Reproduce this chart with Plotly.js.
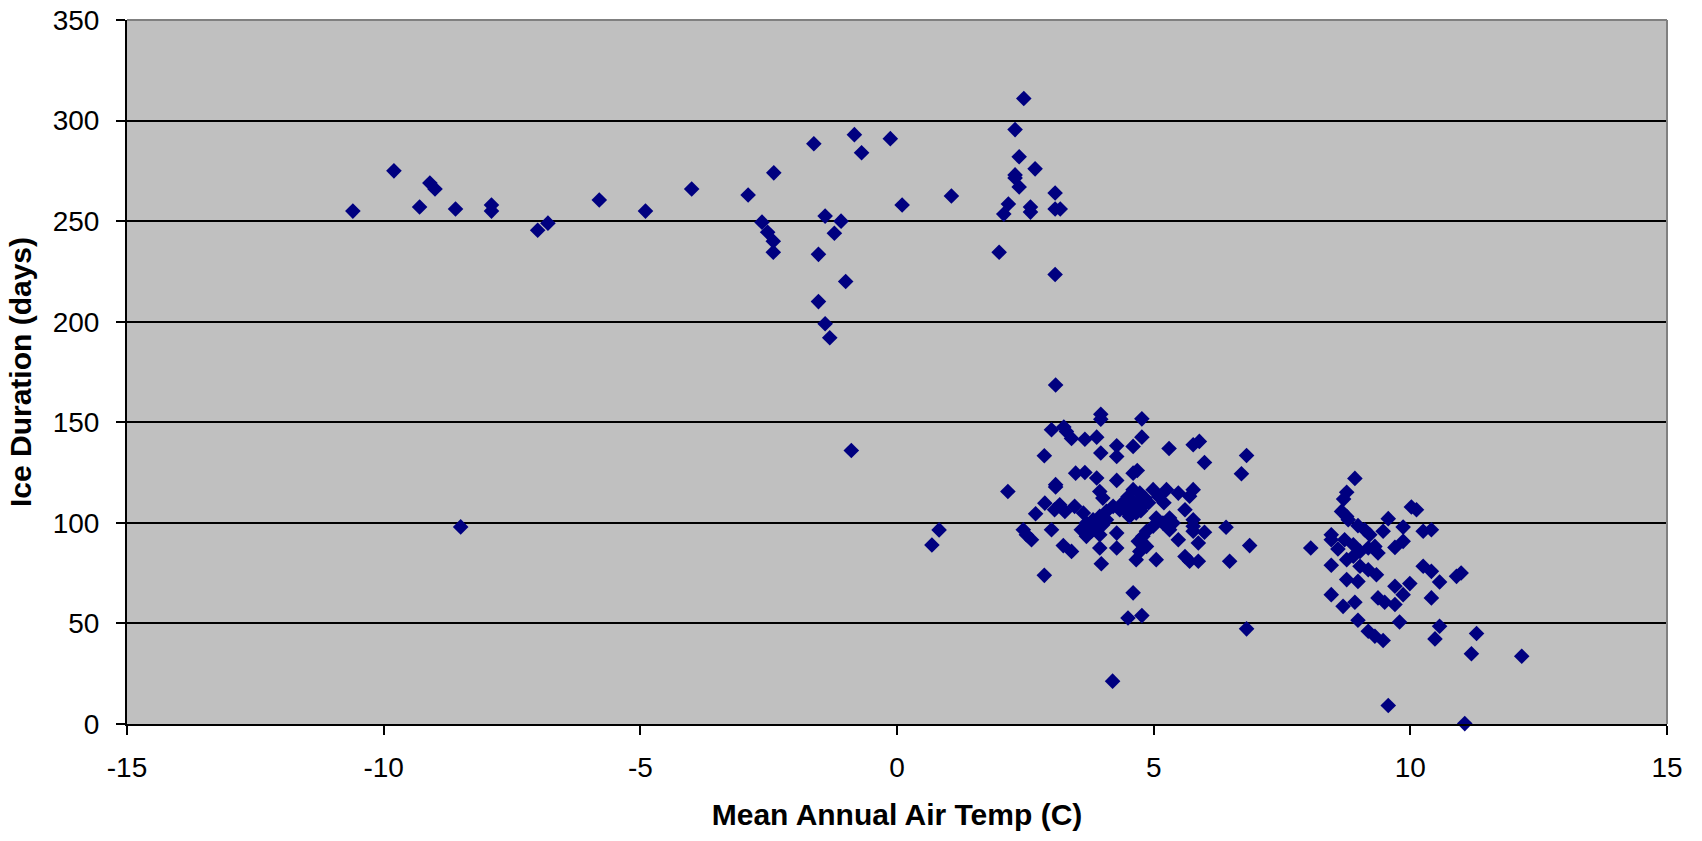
<!DOCTYPE html>
<html>
<head>
<meta charset="utf-8">
<script src="https://cdn.plot.ly/plotly-3.0.1.min.js"></script>
<style>html,body{margin:0;padding:0;background:#fff;}#chart{width:1702px;height:841px;}</style>
</head>
<body>
<div id="chart"></div>
<script>
// Mean annual air temperature (C) and ice duration (days), grouped by region of the plot
const coldTemp = [-10.6,-9.8,-9.3,-9.1,-9.0,-8.6,-7.9,-7.9,-7.0,-6.8,-8.5,-5.8,-4.9,-4.0];
const coldIce  = [255,275,257,269,266,256,258,255,245.5,249,98,260.5,255,266];

const midTemp = [-2.9,-2.63,-2.52,-2.41,-2.41,-2.4,-1.62,-0.83,-0.69,-0.13,-1.4,-1.09,-1.22,-1.53,-1.0,-1.53,-1.4,-1.31,0.1,1.06,-0.89,0.68,0.82];
const midIce  = [263,249.5,244.5,240,234.5,274,288.5,293,284,291,252.5,250,244,233.5,220,210,199,192,258,262.5,136,89,96.5];

const highTemp = [2.47,2.3,2.38,2.69,2.3,2.3,2.38,2.17,2.08,2.6,2.6,3.08,3.08,3.18,1.99,3.08,3.09];
const highIce  = [311,295.5,282,276,273,271.5,267,258.5,253.5,257,254.5,264,256,256,234.5,223.5,168.5];

const warmTemp = [3.97,3.97,4.77,3.01,3.25,3.30,3.40,3.66,3.89,4.28,4.60,4.77,3.97,4.28,2.87,5.30,5.77,5.89,5.99,6.81,6.71,3.48,3.66,3.89,4.28,4.60,4.68,3.09,3.09,2.16,3.95,4.01,4.60,4.73,4.99,5.25,5.48,5.77,5.70,4.83,4.47,4.21,4.08,4.34,4.60,4.83,4.66,4.53,2.88,3.07,3.17,3.27,3.46,3.63,2.70,3.82,3.95,4.08,3.69,3.89,4.01,3.59,3.69,3.79,3.95,3.01,2.46,2.52,2.62,4.28,4.28,3.95,3.98,3.24,3.40,2.87,5.05,5.18,4.99,4.86,4.79,4.70,4.86,4.73,4.66,5.05,5.31,5.38,5.31,5.61,5.77,5.77,5.77,5.99,5.87,5.48,5.61,5.70,5.87,6.41,6.48,6.87,6.81,4.60,4.50,4.77,4.20,4.40,4.50,4.70,4.90,5.10,5.20,4.45,4.75];
const warmIce  = [154,151.5,151.7,146.3,147.6,145.4,142,141.6,142.6,138.3,138,142.6,134.7,133,133.4,137,138.8,140.5,130,133.5,124.4,124.7,125,122.3,121.1,124.7,126,119,117.8,115.6,115.6,112.3,116.5,114.8,116.5,116.5,114.8,116.5,113.2,112.3,111.5,108.2,105.7,106.5,108.2,109.8,104.9,103.2,109.8,106.5,109,105.7,108.2,104.9,104.5,101.5,103.2,101.5,99.9,99.1,99.1,96.6,93.3,95.8,94.1,96.6,96.6,94.1,91.6,94.9,87.5,87.5,79.7,88.7,85.8,73.9,102.4,99.9,98.3,95.8,93.3,90.8,88.3,85.8,81.7,81.7,102.4,99.9,96.6,106.5,101.5,98.3,95.8,95.3,90,91.6,83.3,80.9,80.9,97.8,80.9,88.7,47.3,65.2,52.7,53.9,21.3,110,113,111,110,113,110,106,106];

const hotTemp = [8.92,8.76,8.70,8.66,8.76,8.79,10.02,10.12,9.57,9.86,9.47,8.98,9.11,9.21,8.46,8.46,8.72,10.25,10.41,8.06,8.59,8.89,9.02,9.18,9.31,9.37,9.70,9.86,8.76,8.89,9.02,9.18,9.34,8.46,10.25,10.41,10.57,10.90,10.99,8.76,8.98,9.70,9.99,8.46,8.69,8.92,9.37,9.50,9.70,9.86,10.41,8.98,9.79,9.18,9.31,9.47,10.57,10.48,11.29,11.19,12.17,9.57,11.06];
const hotIce  = [122.1,115.2,111.8,105.7,103.2,101.6,107.9,106.5,102.1,97.9,95.8,98.6,96.6,94.1,94.1,91.6,91.6,95.8,96.6,87.5,87,89.1,85.8,87.5,88.3,85,87.8,90.8,81.7,83.4,78.4,76.7,74.2,78.9,78.4,75.9,70.6,73.4,75.1,71.8,70.9,68.5,69.8,64.3,58.5,60.5,62.7,60.5,59.4,64.3,62.7,51.6,50.7,46.1,43.6,41.5,48.6,42.3,45,34.9,33.7,9.2,0.2];

const xTickVals = [-15, -10, -5, 0, 5, 10, 15];
const xTickText = ['-15', '-10', '-5', '0', '5', '10', '15'];
const xTitle = 'Mean Annual Air Temp (C)';
const yTitle = 'Ice Duration (days)';

const temps = [].concat(coldTemp, midTemp, highTemp, warmTemp, hotTemp);
const ice = [].concat(coldIce, midIce, highIce, warmIce, hotIce);

const font = 'Liberation Sans, Arial, sans-serif';

Plotly.newPlot('chart', [{
  type: 'scatter', mode: 'markers', x: temps, y: ice,
  marker: {symbol: 'diamond', size: 12, color: '#000080', line: {width: 0}},
  hoverinfo: 'x+y', cliponaxis: false
}], {
  width: 1702, height: 841,
  margin: {l: 127, r: 35, t: 20, b: 117},
  paper_bgcolor: '#ffffff', plot_bgcolor: '#c0c0c0',
  showlegend: false,
  font: {family: font, color: '#000', size: 28},
  xaxis: {
    range: [-15, 15], tickmode: 'array', tickvals: xTickVals, ticktext: xTickText,
    showgrid: false, zeroline: false,
    showline: true, linecolor: '#000', linewidth: 2,
    ticks: 'outside', ticklen: 9, tickwidth: 2, tickcolor: '#000',
    ticklabelstandoff: 8,
    tickfont: {family: font, size: 28},
    title: {text: xTitle, font: {family: font, size: 30, weight: 'bold'}, standoff: 22}
  },
  yaxis: {
    range: [0, 350], dtick: 50, showgrid: true, gridcolor: '#000', gridwidth: 2, zeroline: false,
    showline: true, linecolor: '#000', linewidth: 2,
    ticks: 'outside', ticklen: 9, tickwidth: 2, tickcolor: '#000',
    ticklabelstandoff: 11,
    tickfont: {family: font, size: 28},
    title: {text: yTitle, font: {family: font, size: 30, weight: 'bold'}, standoff: 12}
  },
  shapes: [
    {type: 'line', xref: 'paper', yref: 'paper', x0: 0, x1: 1, y0: 1, y1: 1, line: {color: '#808080', width: 2}},
    {type: 'line', xref: 'paper', yref: 'paper', x0: 1, x1: 1, y0: 0, y1: 1, line: {color: '#808080', width: 2}}
  ]
}, {displayModeBar: false, staticPlot: true});
</script>
</body>
</html>
